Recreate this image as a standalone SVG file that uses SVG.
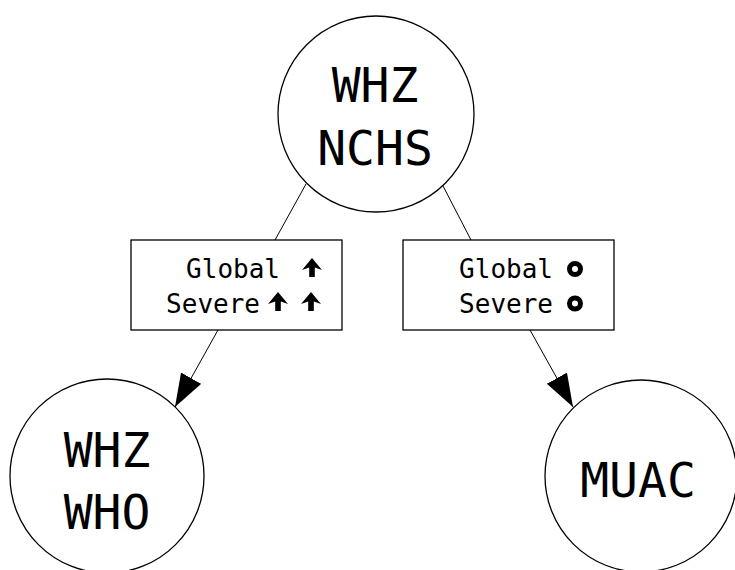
<svg xmlns="http://www.w3.org/2000/svg" width="735" height="570" viewBox="0 0 735 570">
  <defs>
    <style>
      .node { fill: #ffffff; stroke: #000000; stroke-width: 1.3; }
      .big { font-family: "DejaVu Sans Mono", monospace; font-size: 48px; fill: #000; text-anchor: middle; }
      .lbl { font-family: "DejaVu Sans Mono", monospace; font-size: 26px; fill: #000; text-anchor: end; }
      .ring { fill: none; stroke: #000; stroke-width: 5; }
      .edge { stroke: #000; stroke-width: 1; fill: none; }
      .box { fill: #fff; stroke: #000; stroke-width: 1.3; }
    </style>
    <marker id="ah" markerUnits="userSpaceOnUse" markerWidth="34" markerHeight="24" refX="33" refY="11.5" orient="auto">
      <path d="M0,0 L33,11.5 L0,23 Z" fill="#000"/>
    </marker>
    <path id="up" d="M0,-19 L10,-7 L2.8,-9.5 L2.8,0 L-2.8,0 L-2.8,-9.5 L-10,-7 Z" fill="#000"/>
  </defs>
  <rect width="735" height="570" fill="#fff"/>
  <g id="connectors">
    <line class="edge" x1="306" y1="184" x2="275" y2="240"/>
    <line class="edge" x1="442" y1="184" x2="471" y2="240"/>
    <line class="edge" x1="218" y1="330" x2="175" y2="407" marker-end="url(#ah)"/>
    <line class="edge" x1="530" y1="330" x2="573" y2="407" marker-end="url(#ah)"/>
  </g>
  <g id="node-whz-nchs">
    <circle class="node" cx="376" cy="114" r="98"/>
    <text class="big" x="375" y="102">WHZ</text>
    <text class="big" x="375" y="165">NCHS</text>
  </g>
  <g id="label-left">
    <rect class="box" x="131" y="240" width="211" height="90"/>
    <text class="lbl" x="280" y="278">Global</text>
    <text class="lbl" x="260" y="313">Severe</text>
    <use href="#up" x="312" y="277"/>
    <use href="#up" x="278" y="311"/>
    <use href="#up" x="311" y="311"/>
  </g>
  <g id="label-right">
    <rect class="box" x="403" y="240" width="211" height="90"/>
    <text class="lbl" x="553" y="278">Global</text>
    <text class="lbl" x="553" y="313">Severe</text>
    <circle class="ring" cx="575" cy="269" r="5.5"/>
    <circle class="ring" cx="575" cy="303.5" r="5.5"/>
  </g>
  <g id="node-whz-who">
    <circle class="node" cx="107" cy="476" r="97"/>
    <text class="big" x="107" y="467">WHZ</text>
    <text class="big" x="107" y="529">WHO</text>
  </g>
  <g id="node-muac">
    <circle class="node" cx="641" cy="476" r="96"/>
    <text class="big" x="638" y="497">MUAC</text>
  </g>
</svg>
